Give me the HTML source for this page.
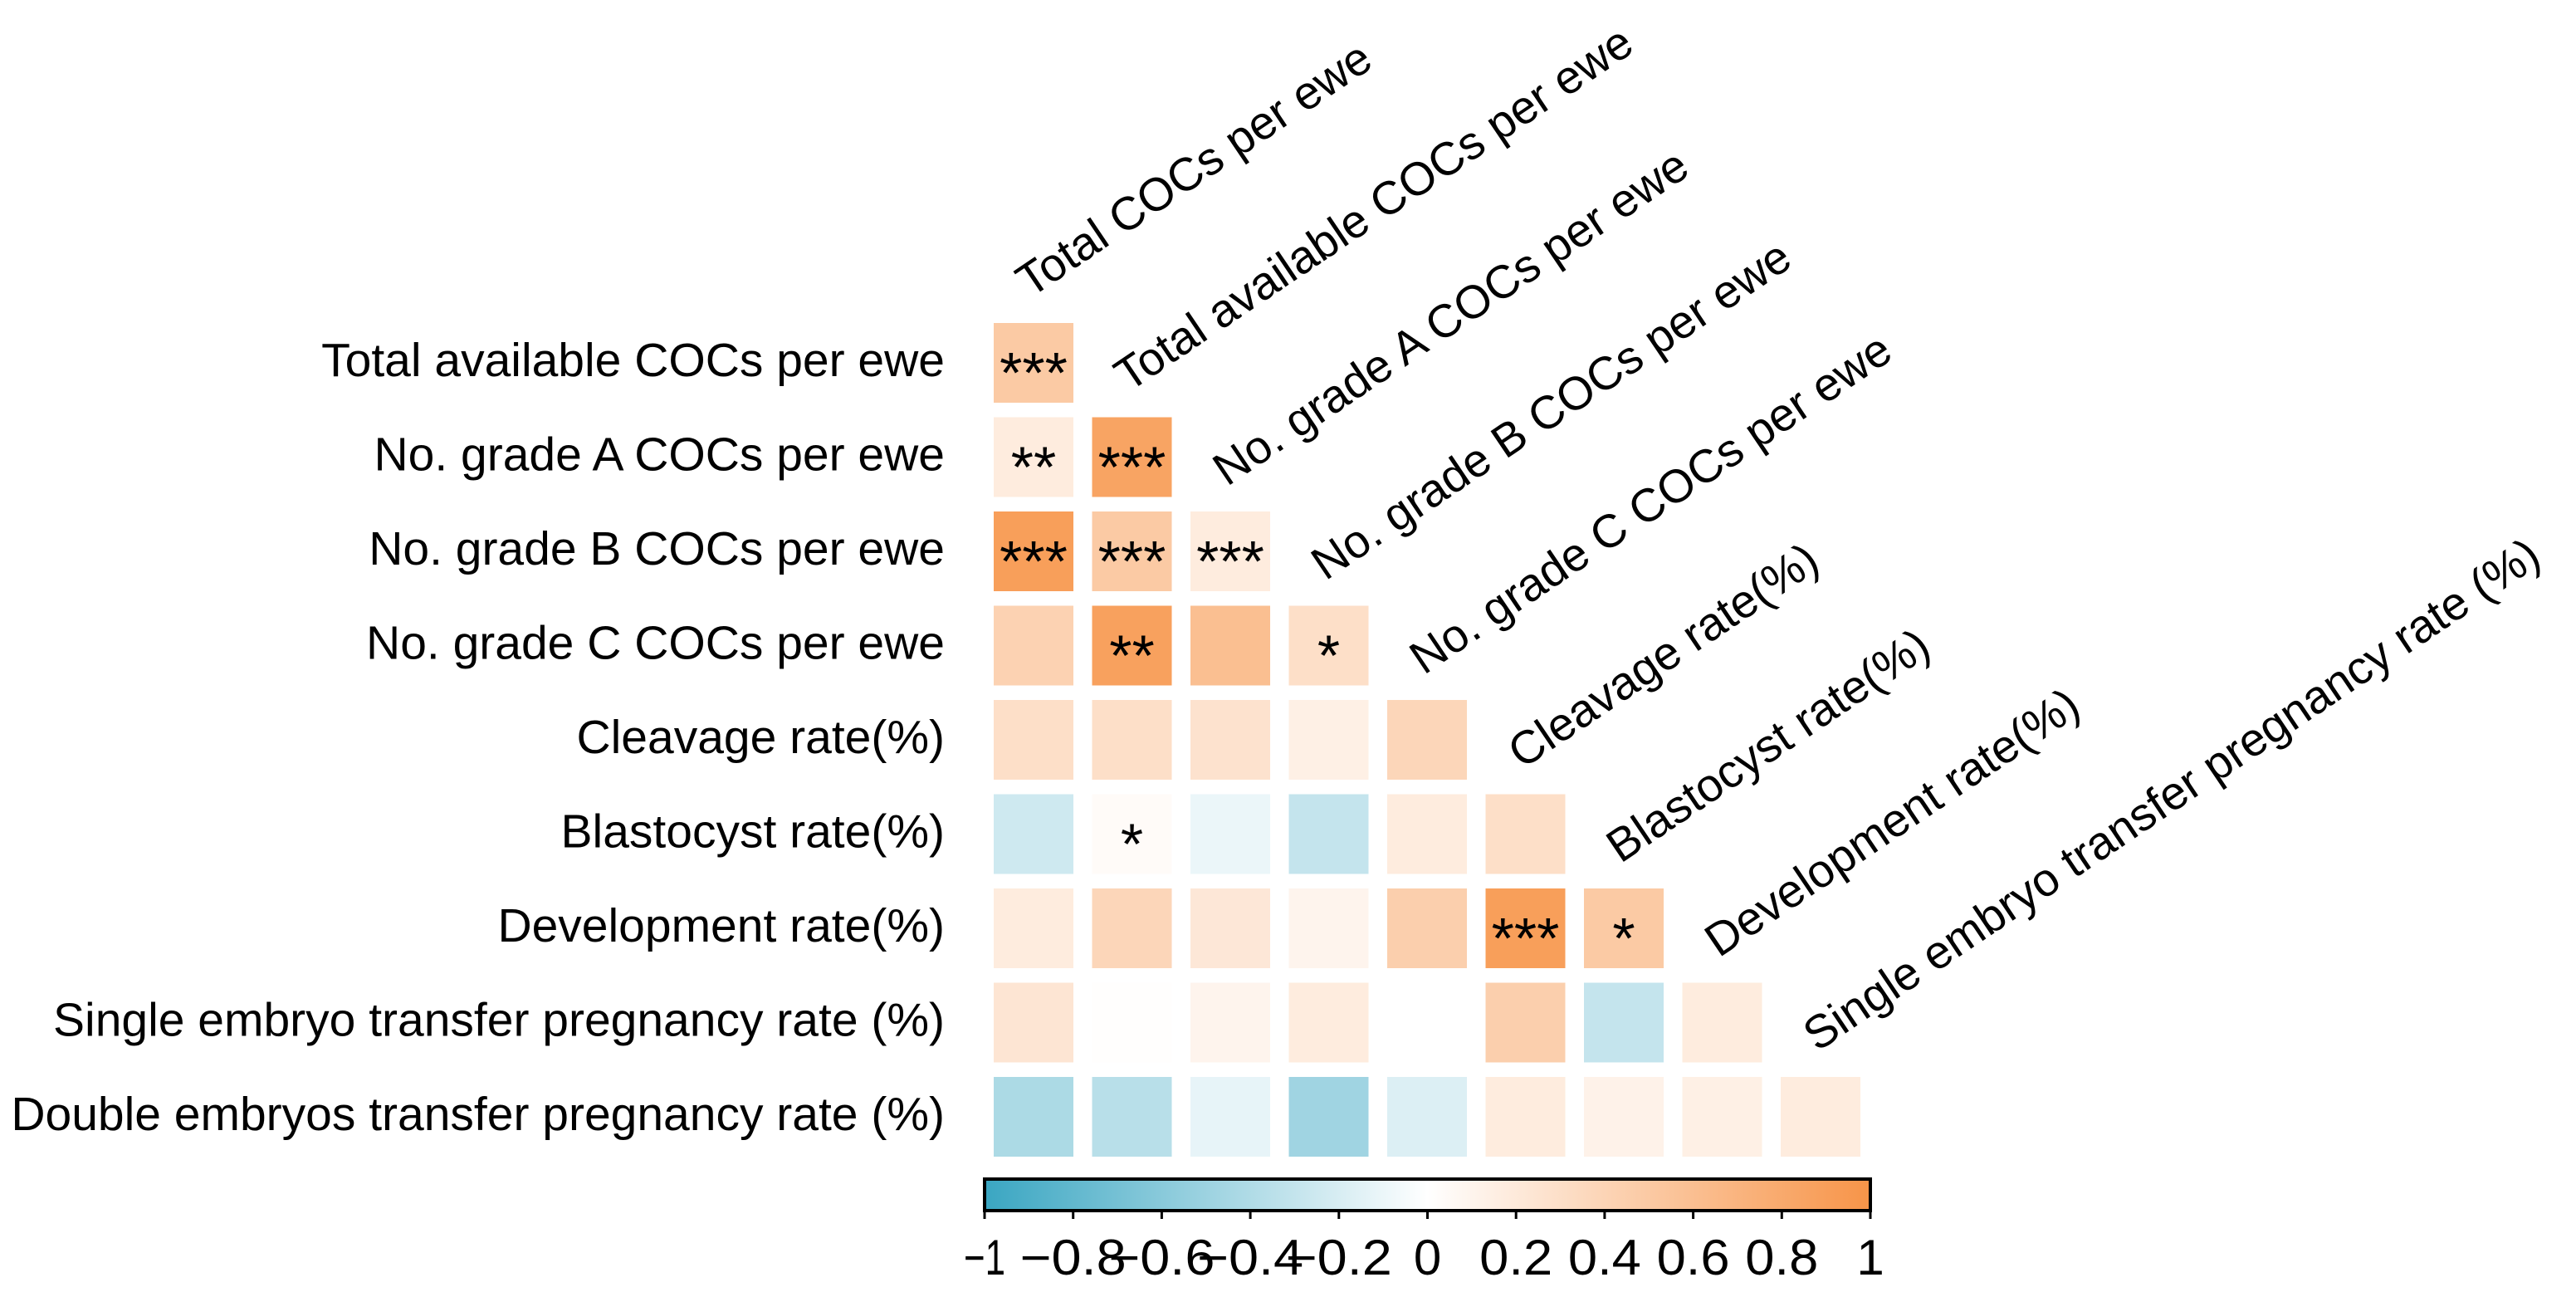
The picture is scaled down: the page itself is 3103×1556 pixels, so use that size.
<!DOCTYPE html>
<html><head><meta charset="utf-8"><style>
html,body{margin:0;padding:0;background:#fff;}
svg{display:block;font-family:"Liberation Sans",Arial,sans-serif;}
</style></head><body>
<svg id="chart" width="3103" height="1556" viewBox="0 0 3103 1556">
<defs>
<linearGradient id="cbgrad" x1="0" x2="1" y1="0" y2="0">
<stop offset="0" stop-color="rgb(58,166,194)"/>
<stop offset="0.5" stop-color="#ffffff"/>
<stop offset="1" stop-color="rgb(247,148,72)"/>
</linearGradient>
</defs>
<g id="cells"></g>
<g id="rowlabels"></g>
<g id="collabels"></g>
<g id="colorbar">
<rect x="1186" y="1420" width="1067" height="38" fill="url(#cbgrad)" stroke="#000" stroke-width="4"/>
</g>
</svg>
<script>
const rowNames = ["Total available COCs per ewe","No. grade A COCs per ewe","No. grade B COCs per ewe","No. grade C COCs per ewe","Cleavage rate(%)","Blastocyst rate(%)","Development rate(%)","Single embryo transfer pregnancy rate (%)","Double embryos transfer pregnancy rate (%)"];
const colNames = ["Total COCs per ewe","Total available COCs per ewe","No. grade A COCs per ewe","No. grade B COCs per ewe","No. grade C COCs per ewe","Cleavage rate(%)","Blastocyst rate(%)","Development rate(%)","Single embryo transfer pregnancy rate (%)"];
const corrRow0 = [0.5];
const corrRow1 = [0.18, 0.85];
const corrRow2 = [0.9, 0.5, 0.18];
const corrRow3 = [0.42, 0.88, 0.6, 0.3];
const corrRow4 = [0.3, 0.3, 0.27, 0.14, 0.38];
const corrRow5 = [-0.25, 0.04, -0.1, -0.3, 0.18, 0.3];
const corrRow6 = [0.18, 0.38, 0.22, 0.1, 0.45, 0.9, 0.5];
const corrRow7 = [0.24, 0.01, 0.1, 0.18, 0.0, 0.45, -0.3, 0.18];
const corrRow8 = [-0.42, -0.36, -0.12, -0.48, -0.18, 0.18, 0.12, 0.14, 0.18];
const sigRow0 = ["***"];
const sigRow1 = ["**","***"];
const sigRow2 = ["***","***","***"];
const sigRow3 = ["","**","","*"];
const sigRow4 = ["","","","",""];
const sigRow5 = ["","*","","","",""];
const sigRow6 = ["","","","","","***","*"];
const sigRow7 = ["","","","","","","",""];
const sigRow8 = ["","","","","","","","",""];
const cbTicks = [-1,-0.8,-0.6,-0.4,-0.2,0,0.2,0.4,0.6,0.8,1];
const cbTickLabels = ["\u22121","\u22120.8","\u22120.6","\u22120.4","\u22120.2","0","0.2","0.4","0.6","0.8","1"];

const corr = [corrRow0,corrRow1,corrRow2,corrRow3,corrRow4,corrRow5,corrRow6,corrRow7,corrRow8];
const sig = [sigRow0,sigRow1,sigRow2,sigRow3,sigRow4,sigRow5,sigRow6,sigRow7,sigRow8];
const NS="http://www.w3.org/2000/svg";
const X0=1197, XP=118.5, Y0=389, YP=113.5, CS=96;
function xCol(j){return X0+j*XP;}
function yRow(i){return Y0+i*YP;}
function cbX(v){return 1186+(v+1)/2*1067;}
function color(v){
  const o=[247,148,72], b=[58,166,194];
  const t=Math.min(1,Math.abs(v)); const c=v>=0?o:b;
  return "rgb("+c.map(k=>Math.round(255+(k-255)*t)).join(",")+")";
}
const cells=document.getElementById('cells');
for(let i=0;i<corr.length;i++){
  for(let j=0;j<corr[i].length;j++){
    const r=document.createElementNS(NS,'rect');
    r.setAttribute('x',xCol(j));r.setAttribute('y',yRow(i));
    r.setAttribute('width',CS);r.setAttribute('height',CS);
    r.setAttribute('fill',color(corr[i][j]));
    
    
    cells.appendChild(r);
    if(sig[i][j]){
      const t=document.createElementNS(NS,'text');
      t.setAttribute('x',xCol(j)+CS/2);t.setAttribute('y',yRow(i)+CS/2+36);
      t.setAttribute('text-anchor','middle');t.setAttribute('font-size','70');
      t.textContent=sig[i][j];
      
      
      cells.appendChild(t);
    }
  }
}
const rl=document.getElementById('rowlabels');
rowNames.forEach((n,i)=>{
  const t=document.createElementNS(NS,'text');
  t.setAttribute('x',1138);t.setAttribute('y',yRow(i)+CS/2+16);
  t.setAttribute('text-anchor','end');t.setAttribute('font-size','57');
  t.textContent=n;
  
  
  rl.appendChild(t);
});
const cl=document.getElementById('collabels');
colNames.forEach((n,j)=>{
  const t=document.createElementNS(NS,'text');
  const x=xCol(j)+CS/2-4, y=yRow(j-1)+CS/2+36;
  t.setAttribute('x',x);t.setAttribute('y',y);
  t.setAttribute('font-size','56');
  t.setAttribute('transform','rotate(-34 '+x+' '+y+')');
  t.textContent=n;
  
  
  cl.appendChild(t);
});
const cb=document.getElementById('colorbar');
cbTicks.forEach((v,k)=>{
  const l=document.createElementNS(NS,'line');
  l.setAttribute('x1',cbX(v));l.setAttribute('x2',cbX(v));
  l.setAttribute('y1',1458);l.setAttribute('y2',1468);
  l.setAttribute('stroke','#000');l.setAttribute('stroke-width','3');
  
  
  cb.appendChild(l);
  const t=document.createElementNS(NS,'text');
  t.setAttribute('x',cbX(v));t.setAttribute('y',1535);
  t.setAttribute('text-anchor','middle');t.setAttribute('font-size','60');
  const lab=cbTickLabels[k];
  const len = lab.length>=4 ? 128 : (lab.length===3 ? 88 : (lab.length===2 ? 50 : 0));
  if(len){t.setAttribute('textLength',len);t.setAttribute('lengthAdjust','spacingAndGlyphs');}
  t.textContent=lab;
  
  
  cb.appendChild(t);
});
</script>
</body></html>
